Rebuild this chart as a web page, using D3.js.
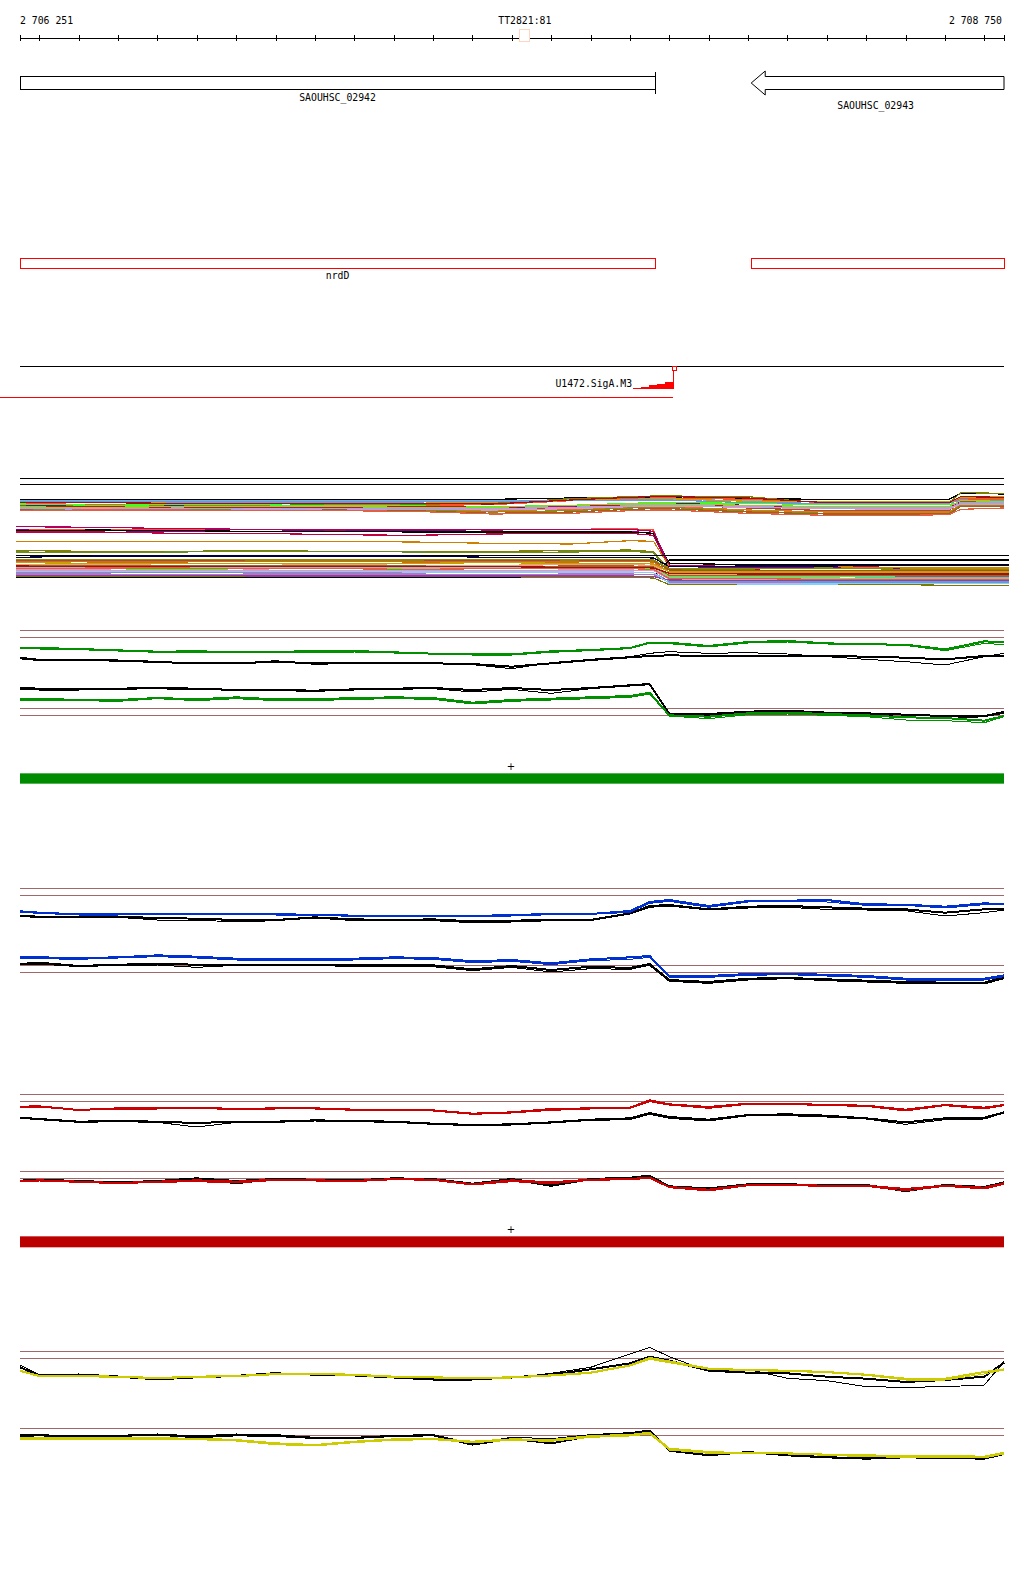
<!DOCTYPE html>
<html><head><meta charset="utf-8">
<script src="https://cdn.jsdelivr.net/npm/d3@7"></script>
<style>
body{margin:0;background:#fff;}
svg{display:block;}
text{font-family:"DejaVu Sans Mono","Liberation Mono",monospace;font-size:9.8px;fill:#000;}
</style></head><body>
<svg id="c" width="1024" height="1589"></svg>
<script>
// ---------------- DATA ----------------
const regionStart = 2706251, regionEnd = 2708750;
const axisTicks = [2706251,2706300,2706400,2706500,2706600,2706700,2706800,2706900,2707000,2707100,2707200,2707300,2707400,2707500,2707600,2707700,2707800,2707900,2708000,2708100,2708200,2708300,2708400,2708500,2708600,2708700,2708750];
const axisLabels = ["2 706 251","TT2821:81","2 708 750"];
const markerPos = 2707533;

const geneNames = ["SAOUHSC_02942","SAOUHSC_02943"];
const geneStarts = [2706100, 2708108];
const geneEnds = [2707864, 2708900];
const geneStrands = ["+","-"];
const operonLabels = ["nrdD",""];

const tssName = "U1472.SigA.M3";
const tssPos = 2707910;
const tssLineStart = 2706190;
const sigStarts = [2707808,2707828,2707848,2707868,2707888];
const sigEnds   = [2707828,2707848,2707868,2707888,2707910];
const sigScores = [1,2.5,4,5.5,7];

// multi-sample panel (signal units)
const multiRefs = [25,43];
const multiPos = [2706251,2706450,2706650,2706850,2707050,2707250,2707450,2707650,2707800,2707860,2707900,2708100,2708300,2708500,2708610,2708640,2708750];
const multiPosLow = [2706241,2706450,2706650,2706850,2707050,2707250,2707450,2707650,2707800,2707860,2707900,2708100,2708300,2708500,2708610,2708640,2708763];
const upperColors = ["#000000","#70b0e8","#808000","#ff5030","#d2691e","#40ff20","#800080","#a0522d","#a8a8a8","#c01040","#e07818","#8c8c10","#e890c8","#b0a0e0","#a06020","#e06040","#c8a000","#6a9ad0","#9acd32","#a01010"];
const upperSeries = [
 [88,88,88,88,88,88,88,84,84,84,84,86,88,88,88,70,72],
 [91,91,91,91,92,92,92,90,88,88,88,92,94,94,94,86,100],
 [97,97,100,100,104,104,100,86,80,78,78,80,100,100,100,68,70],
 [100,104,104,100,102,106,104,92,86,84,84,88,98,100,100,84,84],
 [103,108,108,108,106,108,112,108,102,100,100,108,116,116,116,90,90],
 [102,106,104,104,108,108,110,106,100,98,98,100,104,104,104,96,96],
 [106,110,108,112,110,112,114,110,102,100,100,106,112,112,112,92,92],
 [108,112,110,112,114,112,118,114,106,104,104,114,122,122,122,96,96],
 [110,112,114,114,114,116,116,112,106,104,104,106,110,110,110,98,98],
 [112,110,112,114,112,110,112,108,104,104,104,108,110,112,112,100,100],
 [116,116,118,118,116,118,122,118,112,110,110,120,126,126,126,104,104],
 [118,120,118,120,118,120,126,122,114,112,112,124,130,130,130,106,106],
 [114,116,116,116,118,118,120,116,110,108,108,112,116,118,118,102,102],
 [115,118,114,118,116,118,116,112,108,106,106,110,114,114,114,100,100],
 [120,122,122,122,120,122,130,126,118,116,116,126,132,132,132,110,110],
 [121,120,120,122,122,124,132,130,122,120,120,130,136,136,134,118,114],
 [96,98,98,98,100,100,96,92,88,86,86,94,96,96,96,82,80],
 [94,94,96,96,96,96,94,92,90,90,90,98,100,100,100,90,92],
 [112,112,110,110,110,112,112,106,102,102,102,106,110,110,110,92,94],
 [98,98,100,100,100,100,102,90,82,80,80,84,98,98,98,80,82]
];
const lowerColors = ["#ff5030","#c00040","#800080","#000000","#b00060","#d08000","#808000","#6b8e23","#000000","#000000","#000040","#a0522d","#d2691e","#8b8b00","#78b4e8","#40ff20","#e890c8","#b0b0b0","#f0a070","#6a9ad0","#c070c0","#e06040","#c8a000","#7a7a00","#a06020","#9040a0","#a01010","#87cefa"];
const lowerSeries = [
 [178,178,178,178,178,178,178,178,176,180,300,302,304,306,306,306,306],
 [186,186,190,190,194,196,192,190,190,196,296,300,302,304,304,304,304],
 [180,182,184,184,182,182,184,184,184,190,290,292,292,296,296,296,296],
 [182,180,182,184,184,186,186,186,186,190,280,284,284,284,284,284,284],
 [170,172,176,178,180,178,180,178,178,184,286,290,290,292,292,292,292],
 [214,214,214,214,214,216,220,222,212,214,290,288,290,294,294,294,294],
 [242,244,244,242,244,244,244,242,240,245,300,300,304,302,302,302,302],
 [246,248,246,244,244,246,248,246,244,248,310,310,312,312,312,312,312],
 [256,256,256,256,256,256,256,256,256,256,256,256,256,256,256,256,256],
 [322,322,322,322,322,322,322,322,322,322,270,270,270,270,270,270,270],
 [262,258,258,258,258,258,262,262,262,264,290,288,288,286,286,286,286],
 [270,272,272,272,270,270,272,270,270,272,300,302,302,300,300,300,300],
 [274,276,276,274,274,276,276,276,274,276,306,306,308,308,308,308,308],
 [268,268,268,270,270,270,268,270,268,270,296,296,294,298,298,298,298],
 [290,290,290,288,290,290,290,290,290,292,318,320,320,322,322,322,322],
 [296,296,298,296,294,294,296,294,294,296,318,318,318,318,318,318,318],
 [300,300,302,300,302,302,302,300,300,302,328,330,330,328,328,328,328],
 [292,294,292,292,292,294,294,294,292,294,322,324,324,326,326,326,326],
 [284,284,286,286,284,286,286,284,284,286,312,312,314,314,314,314,314],
 [306,306,306,308,306,306,306,308,306,308,334,336,336,336,336,336,336],
 [312,312,314,312,312,312,314,312,312,314,338,338,340,340,340,340,340],
 [296,294,294,296,296,298,296,296,296,298,326,326,328,330,330,330,330],
 [278,280,280,280,280,280,278,280,280,282,306,306,306,306,306,306,306],
 [318,318,318,320,320,320,320,322,322,324,344,344,344,344,346,346,346],
 [286,288,288,288,288,288,290,288,288,290,316,316,316,318,318,318,318],
 [316,316,316,318,318,318,318,318,318,320,330,332,332,332,332,332,332],
 [288,290,290,290,290,290,290,292,292,294,310,312,312,312,312,312,312],
 [304,304,304,304,304,306,306,306,306,308,340,342,342,340,340,340,340]
];

// condition panels (signal units)
const wigPos = [2706251,2706300,2706400,2706500,2706600,2706700,2706800,2706900,2707000,2707100,2707200,2707300,2707400,2707500,2707600,2707700,2707800,2707850,2707900,2708000,2708100,2708200,2708300,2708400,2708500,2708600,2708700,2708750];

const greenRefs = [61,82,295,316];
const greenUpA = [113,114,117,121,125,124,126,125,124,123,127,131,133,133,124,120,114,98,98,108,96,93,100,103,104,118,94,97];
const greenUpB = [116,117,119,123,127,127,128,127,126,126,129,132,135,135,127,122,116,100,101,111,99,96,102,104,106,122,100,104];
const greenCtlUpA = [145,150,150,152,156,160,160,155,160,158,160,160,162,170,160,150,142,138,136,138,138,138,138,140,143,148,138,138];
const greenCtlUpB = [142,148,149,150,154,160,162,152,163,160,162,158,164,176,158,148,140,130,125,130,128,132,140,148,155,165,140,130];
const greenCtlLoA = [234,236,238,236,234,236,240,240,242,238,236,234,240,234,240,234,226,222,312,312,305,302,308,310,314,318,318,306];
const greenCtlLoB = [238,240,240,238,236,240,238,242,244,240,238,236,246,238,250,236,228,224,314,316,308,304,310,314,320,326,320,310];
const greenLoA = [268,266,270,270,264,268,262,268,268,264,262,264,278,270,266,262,258,248,316,320,310,308,312,316,322,324,332,318];
const greenLoB = [270,270,272,274,266,272,266,272,272,268,266,268,282,274,270,266,262,252,318,326,314,312,316,320,330,332,338,320];

const blueRefs = [55,76,287,307];
const blueUpA = [124,128,133,133,132,132,133,133,134,137,137,138,138,135,132,132,123,96,90,108,93,92,90,103,104,110,100,102];
const blueUpB = [127,130,135,135,134,133,135,135,136,139,139,140,141,138,134,133,127,100,94,112,96,94,96,106,106,114,104,104];
const blueCtlUpA = [138,140,142,140,144,146,150,150,142,148,150,148,154,152,150,150,130,108,105,118,110,108,112,116,118,128,118,118];
const blueCtlUpB = [140,142,144,142,150,150,156,152,144,152,152,152,158,156,152,152,132,112,108,120,114,112,118,120,122,138,128,120];
const blueLoA = [260,262,264,262,256,260,266,268,268,266,262,264,274,270,280,268,262,258,318,318,312,312,314,318,326,326,326,316];
const blueLoB = [264,266,268,264,260,264,270,272,272,270,266,268,278,274,284,272,268,262,322,322,316,314,318,322,330,330,330,320];
const blueCtlLoA = [282,278,288,284,282,284,284,284,284,286,286,286,298,288,300,290,294,282,330,336,326,324,328,332,336,338,338,322];
const blueCtlLoB = [285,282,290,286,285,292,286,286,286,290,290,290,302,292,306,296,298,286,334,340,330,326,332,336,340,342,342,326];

const redRefs = [28,48,258,280];
const redUpA = [65,64,75,70,70,68,72,70,70,74,74,76,86,82,72,70,68,46,58,66,56,56,60,62,74,60,68,60];
const redUpB = [68,66,76,72,72,70,74,72,72,76,76,78,88,84,76,72,70,50,60,70,58,58,62,64,78,62,72,62];
const redCtlUpA = [98,102,110,108,110,114,110,110,106,108,110,116,120,118,112,104,100,84,96,104,90,88,92,100,112,100,98,82];
const redCtlUpB = [100,104,112,110,112,126,112,112,108,110,112,118,122,120,114,106,104,88,100,108,92,92,96,102,118,104,102,84];
const redLoA = [289,286,290,294,290,286,290,284,286,288,282,284,298,286,292,284,282,278,306,314,300,300,302,302,312,302,308,295];
const redLoB = [291,288,292,296,292,290,294,286,288,290,284,286,300,290,296,286,284,280,308,318,302,302,304,304,318,304,312,298];
const redCtlLoA = [287,284,288,292,288,280,288,282,284,286,280,282,296,282,300,282,278,272,304,310,298,298,300,300,316,300,306,292];
const redCtlLoB = [289,286,290,294,290,284,296,284,286,288,282,284,298,284,304,284,280,275,306,316,300,300,302,302,320,302,310,294];

const yellowRefs = [64,85,295,316];
const yellowUpA = [122,138,138,140,144,140,138,132,132,134,140,142,144,142,136,128,106,84,94,116,120,122,126,134,146,146,126,118];
const yellowUpB = [124,140,140,142,146,142,140,134,134,136,142,144,146,144,138,130,108,88,98,118,122,124,128,136,150,150,132,120];
const yellowCtlUpA = [105,134,132,138,150,140,136,128,136,138,144,150,150,144,130,112,72,52,80,124,118,145,152,170,172,170,165,95];
const yellowCtlUpB = [112,136,134,140,148,142,138,130,134,136,142,146,148,142,134,118,100,80,92,122,128,130,140,146,156,150,140,98];
const yellowLoA = [325,325,325,325,325,326,330,340,345,335,328,326,335,328,330,318,315,308,356,366,370,370,374,376,378,378,380,368];
const yellowLoB = [328,328,328,328,328,329,333,344,348,338,331,329,338,331,334,322,318,312,360,370,372,372,376,380,382,382,384,372];
const yellowCtlLoA = [315,314,318,316,312,318,312,314,322,322,316,314,340,322,326,314,308,300,360,374,368,374,380,384,378,380,382,368];
const yellowCtlLoB = [318,316,320,318,314,322,316,318,324,324,318,316,344,326,340,318,310,302,362,376,366,376,382,386,382,384,386,372];

const strandBarColors = ["#008c00","#bb0000"];
const strandMark = "+";

// ---------------- DRAW ----------------
const svg = d3.select("#c");
const xs = d3.scaleLinear().domain([regionStart, regionEnd]).range([20, 1004]);
const clampBp = v => Math.max(regionStart, Math.min(regionEnd, v));

// axis
svg.append("line").attr("x1", xs(regionStart)).attr("x2", xs(regionEnd))
  .attr("y1", 38.5).attr("y2", 38.5).attr("stroke", "#000").attr("shape-rendering","crispEdges");
const ag = svg.append("g").attr("transform", "translate(0,35)")
  .call(d3.axisBottom(xs).tickValues(axisTicks).tickSize(6).tickFormat(""));
ag.select(".domain").remove();
ag.selectAll(".tick line").attr("stroke", "#000").attr("shape-rendering","crispEdges");
svg.append("rect").attr("x", xs(markerPos) - 5).attr("y", 29).attr("width", 10).attr("height", 12)
  .attr("fill", "#fff").attr("stroke", "#ffd6c4").attr("shape-rendering","crispEdges");
svg.append("text").attr("x", xs(regionStart)).attr("y", 24).text(axisLabels[0]);
svg.append("text").attr("x", xs(markerPos)).attr("y", 24).attr("text-anchor","middle").text(axisLabels[1]);
svg.append("text").attr("x", xs(regionEnd) - 2).attr("y", 24).attr("text-anchor","end").text(axisLabels[2]);

// genes
geneNames.forEach((name, i) => {
  const a = xs(clampBp(geneStarts[i])), b = xs(clampBp(geneEnds[i]));
  const g = svg.append("g").attr("shape-rendering","crispEdges");
  if (geneStrands[i] === "+") {
    g.append("rect").attr("x", a + 0.5).attr("y", 76.5).attr("width", b - a).attr("height", 13)
      .attr("fill", "#fff").attr("stroke", "#000");
    g.append("line").attr("x1", b + 0.5).attr("x2", b + 0.5).attr("y1", 72).attr("y2", 94).attr("stroke", "#000");
    svg.append("text").attr("x", (a + b) / 2).attr("y", 101).attr("text-anchor","middle").text(name);
  } else {
    const h = 14;
    const pts = [[a, 83], [a + h, 71], [a + h, 76.5], [b, 76.5], [b, 89.5], [a + h, 89.5], [a + h, 95], [a, 83]];
    g.append("path").attr("d", d3.line()(pts)).attr("fill", "#fff").attr("stroke", "#000")
      .attr("shape-rendering","auto");
    svg.append("text").attr("x", (a + b) / 2 - 2).attr("y", 109).attr("text-anchor","middle").text(name);
  }
  // operon (red) boxes
  svg.append("rect").attr("x", a + 0.5).attr("y", 258.5).attr("width", b - a).attr("height", 10)
    .attr("fill", "#fff").attr("stroke", "#ff0000").attr("shape-rendering","crispEdges");
  if (operonLabels[i]) svg.append("text").attr("x", (a + b) / 2).attr("y", 279).attr("text-anchor","middle").text(operonLabels[i]);
});

// TSS track
svg.append("line").attr("x1", xs(regionStart)).attr("x2", xs(regionEnd)).attr("y1", 366.5).attr("y2", 366.5)
  .attr("stroke", "#000").attr("shape-rendering","crispEdges");
svg.append("line").attr("x1", xs(tssLineStart)).attr("x2", xs(tssPos)).attr("y1", 397.5).attr("y2", 397.5)
  .attr("stroke", "#ff0000").attr("shape-rendering","crispEdges");
const sy = d3.scaleLinear().domain([0, 7]).range([389, 382]);
svg.append("g").selectAll("rect").data(sigScores).join("rect")
  .attr("x", (d, i) => xs(sigStarts[i])).attr("width", (d, i) => xs(sigEnds[i]) - xs(sigStarts[i]) + 0.5)
  .attr("y", d => sy(d)).attr("height", d => sy(0) - sy(d)).attr("fill", "#ff0000").attr("shape-rendering","crispEdges");
svg.append("line").attr("x1", xs(tssPos) + 0.5).attr("x2", xs(tssPos) + 0.5).attr("y1", 370).attr("y2", 389)
  .attr("stroke", "#ff0000").attr("shape-rendering","crispEdges");
svg.append("rect").attr("x", xs(tssPos) - 0.5).attr("y", 366.5).attr("width", 4).attr("height", 4)
  .attr("fill", "#fff").attr("stroke", "#ff0000").attr("shape-rendering","crispEdges");
svg.append("text").attr("x", xs(sigStarts[0]) - 1).attr("y", 387).attr("text-anchor","end").text(tssName);

// multi-sample panel
const my = d3.scaleLinear().domain([0, 360]).range([470, 590]);
multiRefs.forEach(v => svg.append("line").attr("x1", xs(regionStart)).attr("x2", xs(regionEnd))
  .attr("y1", my(v)).attr("y2", my(v)).attr("stroke", "#000").attr("shape-rendering","crispEdges"));
const mlineU = d3.line().x((d, i) => xs(multiPos[i])).y(d => my(d));
const mlineL = d3.line().x((d, i) => xs(multiPosLow[i])).y(d => my(d));
svg.append("g").selectAll("path").data(upperSeries).join("path")
  .attr("d", mlineU).attr("fill", "none").attr("stroke", (d, i) => upperColors[i])
  .attr("stroke-width", 1.2).attr("shape-rendering","crispEdges");
svg.append("g").selectAll("path").data(lowerSeries).join("path")
  .attr("d", mlineL).attr("fill", "none").attr("stroke", (d, i) => lowerColors[i])
  .attr("stroke-width", 1.2).attr("shape-rendering","crispEdges");

// condition panels
function panel(y0, refs, series, bar) {
  const py = d3.scaleLinear().domain([0, 400]).range([y0, y0 + 400 / 3]);
  const g = svg.append("g").attr("shape-rendering","crispEdges");
  refs.forEach(v => g.append("line").attr("x1", xs(regionStart)).attr("x2", xs(regionEnd))
    .attr("y1", py(v)).attr("y2", py(v)).attr("stroke", "#a06868"));
  const ln = d3.line().x((d, i) => xs(wigPos[i])).y(d => py(d));
  g.selectAll("path.s").data(series).join("path").attr("class","s")
    .attr("d", d => ln(d.v)).attr("fill", "none").attr("stroke", d => d.c).attr("stroke-width", d => d.w);
  if (bar) {
    svg.append("text").attr("x", xs((regionStart + regionEnd) / 2) - 1).attr("y", py(bar.mark) + 3.5)
      .attr("text-anchor","middle").style("font-size","10px").style("font-family","DejaVu Sans").text(strandMark);
    svg.append("rect").attr("x", xs(regionStart)).attr("width", xs(regionEnd) - xs(regionStart))
      .attr("y", py(bar.top)).attr("height", py(bar.bottom) - py(bar.top)).attr("fill", bar.color);
  }
}
panel(610, greenRefs, [
  {v: greenCtlUpA, c: "#000", w: 2}, {v: greenCtlUpB, c: "#000", w: 1},
  {v: greenUpA, c: "#009000", w: 2}, {v: greenUpB, c: "#009000", w: 1},
  {v: greenCtlLoA, c: "#000", w: 2}, {v: greenCtlLoB, c: "#000", w: 1},
  {v: greenLoA, c: "#009000", w: 2}, {v: greenLoB, c: "#009000", w: 1}
], {mark: 469, top: 490, bottom: 521, color: strandBarColors[0]});
panel(870, blueRefs, [
  {v: blueCtlUpA, c: "#000", w: 2}, {v: blueCtlUpB, c: "#000", w: 1},
  {v: blueUpA, c: "#0030d0", w: 2}, {v: blueUpB, c: "#0030d0", w: 1},
  {v: blueCtlLoA, c: "#000", w: 2}, {v: blueCtlLoB, c: "#000", w: 1},
  {v: blueLoA, c: "#0030d0", w: 2}, {v: blueLoB, c: "#0030d0", w: 1}
], null);
panel(1085, redRefs, [
  {v: redCtlUpA, c: "#000", w: 2}, {v: redCtlUpB, c: "#000", w: 1},
  {v: redUpA, c: "#cc0000", w: 2}, {v: redUpB, c: "#cc0000", w: 1},
  {v: redCtlLoA, c: "#000", w: 2}, {v: redCtlLoB, c: "#000", w: 1},
  {v: redLoA, c: "#cc0000", w: 2}, {v: redLoB, c: "#cc0000", w: 1}
], {mark: 433, top: 454, bottom: 487, color: strandBarColors[1]});
panel(1330, yellowRefs, [
  {v: yellowCtlUpA, c: "#000", w: 1}, {v: yellowCtlUpB, c: "#000", w: 2},
  {v: yellowUpA, c: "#cccc00", w: 2}, {v: yellowUpB, c: "#cccc00", w: 1},
  {v: yellowCtlLoA, c: "#000", w: 1}, {v: yellowCtlLoB, c: "#000", w: 2},
  {v: yellowLoA, c: "#cccc00", w: 2}, {v: yellowLoB, c: "#cccc00", w: 1}
], null);
</script>
</body></html>
